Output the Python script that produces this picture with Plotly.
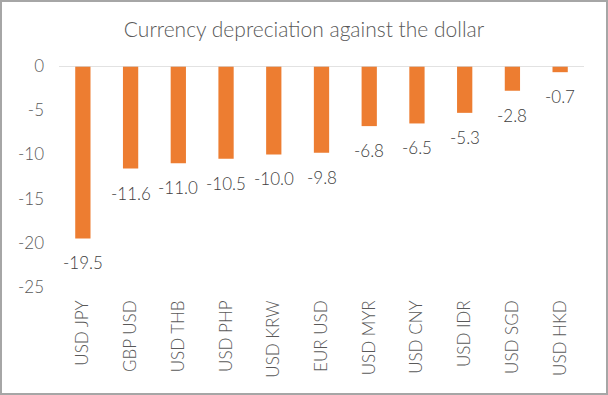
import plotly.graph_objects as go

categories = ["USD JPY", "GBP USD", "USD THB", "USD PHP", "USD KRW", "EUR USD",
              "USD MYR", "USD CNY", "USD IDR", "USD SGD", "USD HKD"]
values = [-19.5, -11.6, -11.0, -10.5, -10.0, -9.8, -6.8, -6.5, -5.3, -2.8, -0.7]
y_ticks = [0, -5, -10, -15, -20, -25]
y_tick_labels = ["0", "-5", "-10", "-15", "-20", "-25"]

W, H = 608, 395
L, R, T, B = 59, 24, 66, 108
pw, ph = W - L - R, H - T - B

FONT = "Lato, 'Open Sans', sans-serif"
GREY = "#595959"
WEIGHT = 300

fig = go.Figure(go.Bar(
    x=categories, y=values,
    marker=dict(color="#ED7D31", line=dict(width=0)),
    width=0.32,
    hoverinfo="x+y",
))

annotations = [
    dict(x=c, y=v, xref="x", yref="y", text=f"{v:.1f}", showarrow=False,
         xanchor="center", yanchor="top", yshift=-12,
         font=dict(family=FONT, size=17, color="#404040", weight=WEIGHT))
    for c, v in zip(categories, values)
]

fig.update_layout(
    width=W, height=H,
    margin=dict(l=L, r=R, t=T, b=B, pad=0),
    paper_bgcolor="white", plot_bgcolor="white",
    showlegend=False,
    title=dict(text="Currency depreciation against the dollar",
               x=0.5, xanchor="center", y=1 - 30 / H, yanchor="middle",
               font=dict(family=FONT, size=21, color=GREY, weight=WEIGHT)),
    xaxis=dict(tickangle=-90, showgrid=False, zeroline=False, showline=False,
               ticks="", tickfont=dict(family=FONT, size=17, color=GREY, weight=WEIGHT),
               ticklabelstandoff=9),
    yaxis=dict(range=[-25, 0], tickvals=y_ticks, ticktext=y_tick_labels,
               showgrid=False, zeroline=False,
               showline=False, ticks="",
               tickfont=dict(family=FONT, size=17, color=GREY, weight=WEIGHT),
               ticklabelstandoff=14),
    annotations=annotations,
    shapes=[
        dict(type="line", xref="paper", yref="y", x0=0, x1=1, y0=0, y1=0,
             line=dict(color="#D9D9D9", width=1.5), layer="above"),
        dict(type="rect", xref="paper", yref="paper",
             x0=(1 - L) / pw, x1=(W - 1 - L) / pw,
             y0=-(H - 1 - T - ph) / ph, y1=(T + ph - 1) / ph,
             line=dict(color="#A6A6A6", width=2), fillcolor="rgba(0,0,0,0)",
             layer="above"),
    ],
)

fig.write_html("out.html",
               config={"displayModeBar": False},
               post_script="document.body.style.margin='0';document.body.style.overflow='hidden';")
